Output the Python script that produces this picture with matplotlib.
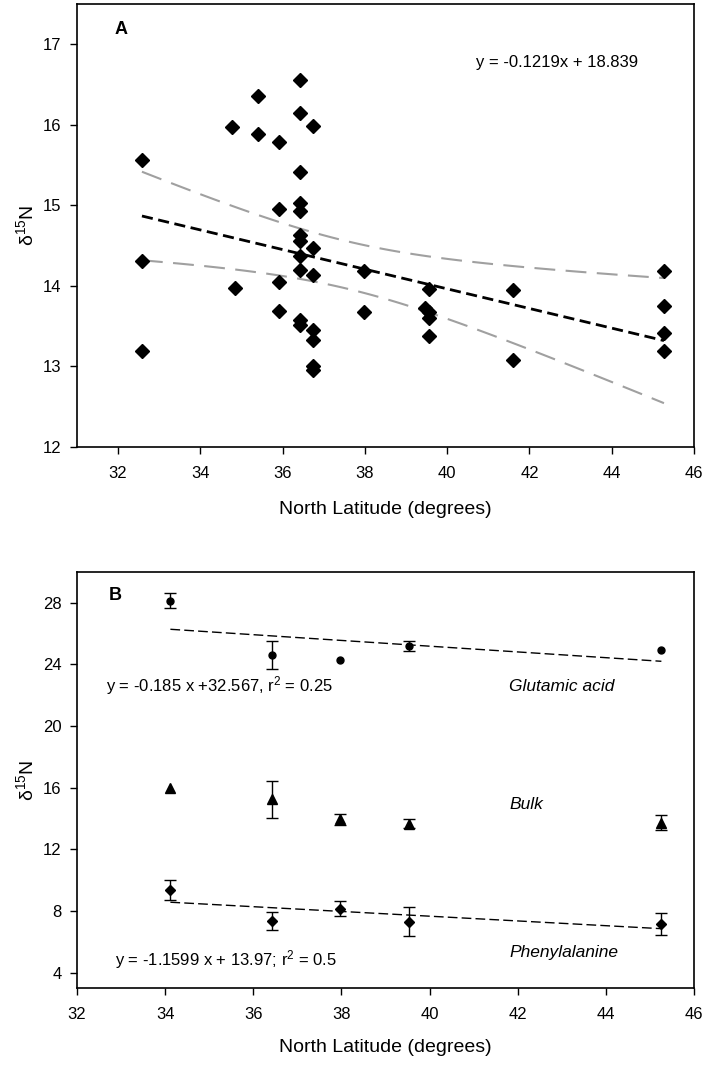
import numpy as np
import matplotlib.pyplot as plt

plt.rcParams['font.family'] = ['Liberation Sans', 'DejaVu Sans']
plt.rcParams['mathtext.fontset'] = 'custom'
plt.rcParams['mathtext.rm'] = 'Liberation Sans'
plt.rcParams['mathtext.it'] = 'Liberation Sans:italic'

# --- Panel A: bulk d15N of individual samples vs latitude ---
lat_a = [32.58, 32.58, 32.58,
         34.78, 34.85,
         35.39, 35.39,
         35.90, 35.90, 35.90, 35.90,
         36.42, 36.42, 36.42, 36.42, 36.42, 36.42, 36.42, 36.42, 36.42, 36.42, 36.42,
         36.75, 36.75, 36.75, 36.75, 36.75, 36.75, 36.75,
         37.97, 37.97,
         39.45, 39.55, 39.55, 39.55, 39.55,
         41.60, 41.60,
         45.27, 45.27, 45.27, 45.27]
d15n_a = [15.56, 14.31, 13.19,
          15.97, 13.97,
          16.36, 15.88,
          15.78, 14.96, 14.05, 13.69,
          16.56, 16.15, 15.41, 15.03, 14.93, 14.63, 14.56, 14.37, 14.20, 13.58, 13.51,
          15.98, 14.47, 14.14, 13.45, 13.33, 13.00, 12.95,
          14.19, 13.68,
          13.72, 13.96, 13.67, 13.60, 13.38,
          13.95, 13.08,
          14.18, 13.75, 13.42, 13.19]
fit_a = (-0.1219, 18.839)   # slope, intercept as printed on the chart
eq_a = "y = -0.1219x + 18.839"

# --- Panel B: site means (+/- error) for amino acids and bulk ---
lat_b = [34.12, 36.42, 37.96, 39.54, 45.26]
glu = [28.15, 24.61, 24.28, 25.20, 24.94]
glu_err = [0.50, 0.90, 0.0, 0.32, 0.0]
bulk = [16.00, 15.24, 13.95, 13.66, 13.73]
bulk_err = [0.0, 1.20, 0.36, 0.28, 0.49]
phe = [9.36, 7.35, 8.15, 7.29, 7.18]
phe_err = [0.68, 0.60, 0.50, 0.94, 0.71]
eq_glu = "y = -0.185 x +32.567, r$^2$ = 0.25"
eq_phe = "y = -1.1599 x + 13.97; r$^2$ = 0.5"

ylab = "δ$^{15}$N"
xlab = "North Latitude (degrees)"


def style_axes(ax):
    ax.tick_params(direction='out', length=5, width=1, labelsize=12,
                   top=False, right=False)
    ax.tick_params(axis='x', pad=9)
    ax.tick_params(axis='y', pad=6)
    for sp in ax.spines.values():
        sp.set_linewidth(1.2)


fig = plt.figure(figsize=(7.06, 10.66), dpi=100)

# panel A: regression line with 95% confidence band
axA = fig.add_axes([0.109, 0.5807, 0.874, 0.4156])
xa = np.array(lat_a)
ya = np.array(d15n_a)
slope, icpt = fit_a
n = len(xa)
resid = ya - (slope * xa + icpt)
s = np.sqrt(np.sum(resid ** 2) / (n - 2))
sxx = np.sum((xa - xa.mean()) ** 2)
xf = np.linspace(xa.min(), xa.max(), 100)
yf = slope * xf + icpt
hw = 2.017 * s * np.sqrt(1.0 / n + (xf - xa.mean()) ** 2 / sxx)
axA.plot(xf, yf + hw, color='#a0a0a0', lw=1.5, dashes=(10, 5))
axA.plot(xf, yf - hw, color='#a0a0a0', lw=1.5, dashes=(10, 5))
axA.plot(xf, yf, color='black', lw=2, dashes=(4, 2))
axA.plot(xa, ya, 'D', color='black', ms=7, zorder=5)
axA.set_xlim(31, 46)
axA.set_ylim(12, 17.5)
axA.set_xticks(range(32, 47, 2))
axA.set_yticks(range(12, 18))
axA.text(31.92, 17.18, 'A', fontsize=13, fontweight='bold', va='center')
axA.text(40.69, 16.77, eq_a, fontsize=12, va='center')
axA.set_ylabel(ylab, fontsize=14)
axA.set_xlabel(xlab, fontsize=14, labelpad=14)
style_axes(axA)

# panel B
axB = fig.add_axes([0.109, 0.0732, 0.874, 0.3902])
xb = np.array(lat_b)
kw = dict(color='black', ecolor='black', elinewidth=1, capsize=4.5, capthick=1,
          ls='none', zorder=5)


def no_zero(err):
    # points without a visible error bar
    e = np.array(err, dtype=float)
    e[e == 0] = np.nan
    return e


axB.errorbar(xb, glu, yerr=no_zero(glu_err), fmt='o', ms=5, **kw)
axB.errorbar(xb, bulk, yerr=no_zero(bulk_err), fmt='^', ms=6.5, **kw)
axB.errorbar(xb, phe, yerr=no_zero(phe_err), fmt='D', ms=4.7, **kw)
for vals in (glu, phe):
    k, b0 = np.polyfit(xb, vals, 1)
    axB.plot(xb[[0, -1]], k * xb[[0, -1]] + b0, color='black', lw=1,
             dashes=(7, 3))
axB.set_xlim(32, 46)
axB.set_ylim(3, 30)
axB.set_xticks(range(32, 47, 2))
axB.set_yticks(range(4, 29, 4))
axB.text(32.72, 28.5, 'B', fontsize=13, fontweight='bold', va='center')
axB.text(32.66, 22.6, eq_glu, fontsize=12, va='center')
axB.text(32.87, 4.85, eq_phe, fontsize=12, va='center')
axB.text(41.81, 22.6, 'Glutamic acid', fontsize=12.5, style='italic', va='center')
axB.text(41.81, 14.92, 'Bulk', fontsize=12.5, style='italic', va='center')
axB.text(41.81, 5.3, 'Phenylalanine', fontsize=12.5, style='italic', va='center')
axB.set_ylabel(ylab, fontsize=14)
axB.set_xlabel(xlab, fontsize=14, labelpad=12)
style_axes(axB)

fig.savefig('out.png', dpi=100)
